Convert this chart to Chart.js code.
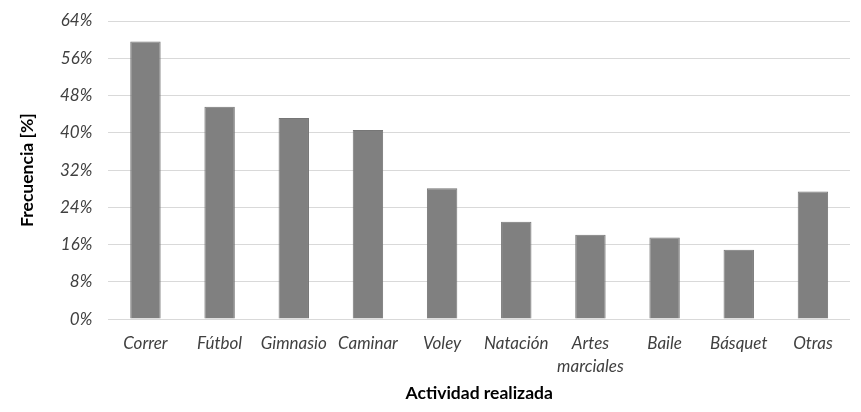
<!DOCTYPE html>
<html>
<head>
<meta charset="utf-8">
<script src="https://cdn.jsdelivr.net/npm/chart.js@4"></script>
<style>
  html, body { margin: 0; padding: 0; background: #fff; }
  #wrap { width: 861px; height: 412px; position: relative; }
</style>
</head>
<body>
<div id="wrap"><canvas id="chart"></canvas></div>
<script>
const activities = ['Correr', 'Fútbol', 'Gimnasio', 'Caminar', 'Voley', 'Natación', ['Artes', 'marciales'], 'Baile', 'Básquet', 'Otras'];
const frequency = [59.6, 45.6, 43.2, 40.6, 28.1, 20.9, 18.1, 17.5, 14.9, 27.4];
const yTicks = [0, 8, 16, 24, 32, 40, 48, 56, 64];

const FONT = 'Lato, "Open Sans", sans-serif';

new Chart(document.getElementById('chart').getContext('2d'), {
  type: 'bar',
  data: {
    labels: activities,
    datasets: [{
      label: 'Frecuencia',
      data: frequency,
      backgroundColor: '#808080',
      borderColor: '#767676',
      borderWidth: 1,
      categoryPercentage: 1,
      barPercentage: 0.41,
    }],
  },
  options: {
    responsive: true,
    maintainAspectRatio: false,
    animation: false,
    layout: { padding: { top: 21, right: 11, left: 13, bottom: 8 } },
    plugins: { legend: { display: false }, tooltip: { enabled: false } },
    scales: {
      x: {
        grid: { display: false },
        border: { display: false },
        ticks: { color: '#404040', font: { family: FONT, size: 17, style: 'italic', lineHeight: 1.35 }, padding: 5, maxRotation: 0, autoSkip: false },
        title: { display: true, text: 'Actividad realizada', color: '#000', font: { family: FONT, size: 17.5, weight: 'bold' }, padding: { top: 0, bottom: 0 } },
      },
      y: {
        min: 0,
        max: 64,
        afterBuildTicks: (axis) => { axis.ticks = yTicks.map((v) => ({ value: v })); },
        // let the top label hang into the layout padding
        afterFit: (axis) => { axis.paddingTop = 0; },
        grid: { color: '#d9d9d9', drawTicks: false },
        border: { display: false },
        ticks: { color: '#404040', font: { family: FONT, size: 17, style: 'italic' }, padding: 16, callback: (v) => v + '%' },
        title: { display: true, text: 'Frecuencia [%]', color: '#000', font: { family: FONT, size: 17.5, weight: 'bold' }, padding: { bottom: 6 } },
      },
    },
  },
});
</script>
</body>
</html>
